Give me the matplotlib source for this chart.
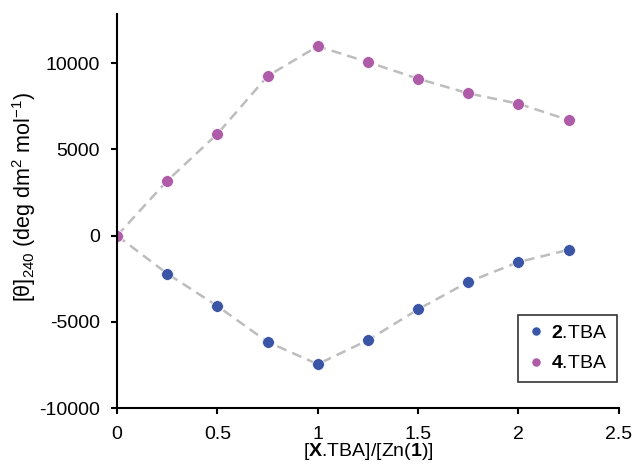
import matplotlib
matplotlib.use('Agg')
import matplotlib.pyplot as plt

plt.rcParams['font.family'] = ['Liberation Sans', 'DejaVu Sans']
plt.rcParams['mathtext.fontset'] = 'custom'
plt.rcParams['mathtext.rm'] = 'Liberation Sans'
plt.rcParams['mathtext.it'] = 'Liberation Sans:italic'
plt.rcParams['mathtext.bf'] = 'Liberation Sans:bold'
plt.rcParams['axes.unicode_minus'] = False

# ratio [X.TBA]/[Zn(1)]
ratio = [0, 0.25, 0.5, 0.75, 1.0, 1.25, 1.5, 1.75, 2.0, 2.25]
# molar ellipticity at 240 nm
theta_2 = [0, -2200, -4080, -6160, -7450, -6060, -4270, -2680, -1530, -820]
theta_4 = [0, 3180, 5900, 9250, 10980, 10060, 9100, 8250, 7650, 6700]

blue = '#3B55A6'
purple = '#AE5BA8'
gray = '#BDBDBD'

fig = plt.figure(figsize=(6.36, 4.67), dpi=100)
ax = fig.add_axes([0.184, 0.126, 0.789, 0.844])

ax.plot(ratio, theta_2, '--', color=gray, lw=1.8, dashes=(4, 2.5), zorder=1)
ax.plot(ratio, theta_4, '--', color=gray, lw=1.8, dashes=(4, 2.5), zorder=1)
ax.plot(ratio, theta_2, 'o', color=blue, ms=8.5, mec='white', mew=0.5, ls='none',
        label=r'$\mathbf{2}$.TBA', zorder=2)
ax.plot(ratio, theta_4, 'o', color=purple, ms=8.5, mec='white', mew=0.5, ls='none',
        label=r'$\mathbf{4}$.TBA', zorder=2)

ax.set_xlim(0, 2.5)
ax.set_ylim(-10000, 12850)
ax.set_xticks([0, 0.5, 1, 1.5, 2, 2.5])
ax.set_xticklabels(['0', '0.5', '1', '1.5', '2', '2.5'])
ax.set_yticks([-10000, -5000, 0, 5000, 10000])

for s in ['top', 'right']:
    ax.spines[s].set_visible(False)
for s in ['left', 'bottom']:
    ax.spines[s].set_linewidth(1.5)
    ax.spines[s].set_color('black')
ax.tick_params(direction='out', length=4.5, width=1.5, labelsize=14)
ax.tick_params(axis='y', pad=8)
ax.tick_params(axis='x', pad=8)

ax.set_xlabel(r'[$\mathbf{X}$.TBA]/[Zn($\mathbf{1}$)]', fontsize=14, labelpad=-1)
ax.set_ylabel(r'[θ]$_{240}$ (deg dm$^{2}$ mol$^{-1}$)', fontsize=15.5)
ax.yaxis.set_label_coords(-0.158, 0.535)

leg = ax.legend(loc='lower right', bbox_to_anchor=(0.996, 0.066), fontsize=14,
                frameon=True, fancybox=False, edgecolor='black', handletextpad=0.35,
                borderpad=0.5, borderaxespad=0, handlelength=0.86, labelspacing=0.65,
                markerscale=0.78)
leg.get_frame().set_linewidth(1.2)

plt.savefig('out.png', dpi=100)
